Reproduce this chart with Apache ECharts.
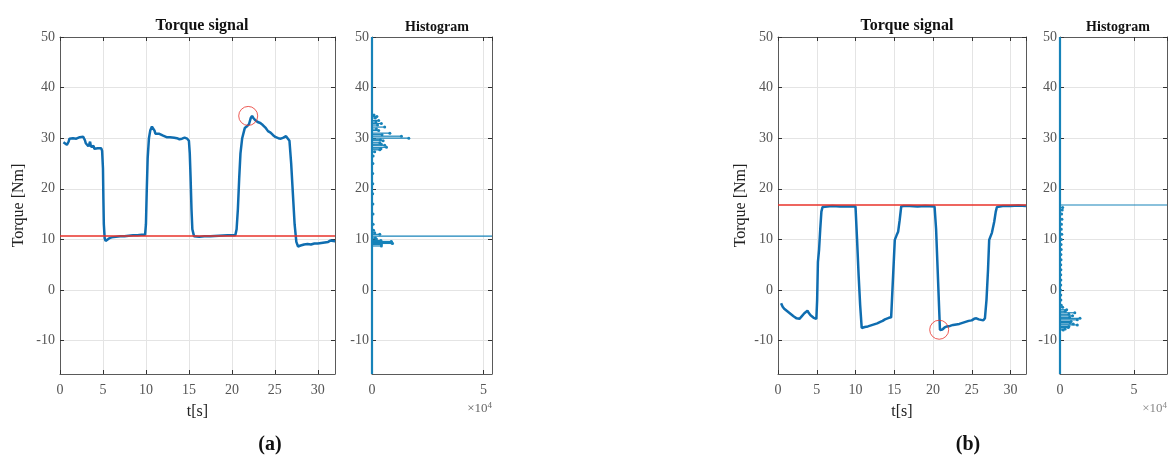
<!DOCTYPE html>
<html>
<head>
<meta charset="utf-8">
<script src="https://cdn.jsdelivr.net/npm/echarts@6/dist/echarts.min.js"></script>
<style>
html,body{margin:0;padding:0;background:#fff;}
#chart{width:1172px;height:456px;}
</style>
</head>
<body>
<div id="chart"></div>
<script>
// ---------- DATA ----------
const timeA = [0.4,0.6,0.8,1.0,1.1,1.3,1.5,1.7,1.9,2.1,2.3,2.5,2.7,2.9,3.0,3.1,3.2,3.3,3.4,3.5,3.6,3.8,3.9,4.0,4.2,4.4,4.6,4.8,4.9,5.0,5.05,5.1,5.2,5.3,5.5,5.7,6.0,6.5,7.0,7.5,8.0,8.5,9.0,9.5,9.9,10.0,10.1,10.2,10.35,10.5,10.7,10.9,11.0,11.1,11.3,11.5,11.7,12.0,12.2,12.4,12.6,12.8,13.0,13.3,13.6,13.9,14.2,14.5,14.8,15.0,15.1,15.2,15.3,15.4,15.6,15.8,16.2,16.8,17.5,18.5,19.5,20.4,20.55,20.7,20.85,21.0,21.2,21.5,21.8,22.0,22.2,22.35,22.5,22.7,23.0,23.3,23.6,23.9,24.2,24.5,24.8,25.1,25.4,25.7,26.0,26.3,26.5,26.7,26.9,27.1,27.3,27.5,27.7,28.0,28.4,28.8,29.2,29.6,30.0,30.4,30.8,31.2,31.5,31.8,32.0];
const torqueA = [29.2,28.9,28.7,29.3,29.9,30.1,30.0,30.3,29.9,29.7,30.2,30.4,30.3,29.6,29.0,28.7,28.9,28.4,28.8,29.3,28.3,28.0,28.5,27.9,28.2,28.0,28.3,28.0,27.5,24.0,18.0,13.0,10.2,9.7,9.8,10.2,10.4,10.5,10.6,10.6,10.7,10.8,10.8,10.9,10.9,13.0,20.0,26.0,30.0,31.5,32.3,32.5,31.5,30.9,31.2,30.9,31.1,30.5,30.8,30.2,30.4,30.2,30.3,30.1,30.0,29.8,29.9,30.1,29.9,29.5,27.0,22.0,16.0,12.0,10.6,10.4,10.5,10.6,10.6,10.7,10.8,10.8,12.0,16.0,22.0,27.0,30.0,32.0,32.4,32.8,34.0,34.4,34.0,33.6,33.2,33.0,32.6,32.1,31.4,31.1,30.6,30.2,30.0,29.9,30.1,30.4,30.6,29.5,25.0,19.0,13.0,9.5,8.6,8.8,9.0,9.1,9.0,9.2,9.2,9.3,9.4,9.5,9.8,9.7,9.6];

const timeB = [0.4,0.6,0.8,1.0,1.2,1.4,1.6,1.8,2.0,2.2,2.4,2.6,2.8,3.0,3.2,3.4,3.6,3.8,4.0,4.2,4.4,4.6,4.8,4.95,5.05,5.15,5.3,5.45,5.6,5.75,6.0,7.0,8.0,9.0,10.0,10.2,10.4,10.6,10.8,10.95,11.2,11.6,12.0,12.4,12.8,13.2,13.5,13.8,14.0,14.3,14.6,14.85,15.07,15.3,15.5,15.7,15.9,16.2,17.0,18.0,19.0,20.2,20.4,20.6,20.8,20.9,21.0,21.2,21.5,21.8,22.2,22.6,23.0,23.4,23.8,24.2,24.6,25.0,25.3,25.6,25.9,26.2,26.5,26.7,26.9,27.1,27.25,27.4,27.6,27.9,28.1,28.25,28.5,29.0,30.0,31.0,32.0];
const torqueB = [-2.6,-3.3,-3.7,-3.8,-4.2,-4.5,-4.7,-5.0,-5.2,-5.4,-5.6,-5.3,-5.7,-5.3,-5.0,-4.6,-4.3,-4.1,-4.6,-5.0,-5.3,-5.5,-5.8,-5.7,-2.0,5.5,8.0,12.0,15.5,16.4,16.5,16.6,16.5,16.5,16.5,10.0,3.0,-3.0,-7.5,-7.6,-7.3,-7.2,-7.0,-6.8,-6.6,-6.3,-6.1,-5.8,-6.0,-5.5,-5.4,-5.3,9.9,10.8,11.5,13.8,16.5,16.6,16.6,16.5,16.6,16.5,12.0,4.0,-4.0,-7.9,-7.6,-7.8,-7.4,-7.2,-7.1,-6.9,-6.8,-6.7,-6.5,-6.3,-6.1,-6.0,-5.7,-5.6,-5.8,-5.9,-6.0,-5.6,-2.0,4.0,9.9,10.5,11.3,13.5,15.5,16.4,16.6,16.6,16.6,16.7,16.6];

const refA = 10.65;
const refB = 16.8;
const circleA = [21.9, 34.4];
const circleB = [20.8, -7.85];

// histogram: torque level (Nm) and sample count
const histA_levels = [34.6,34.3,34.0,33.5,33.2,32.9,32.6,32.2,31.8,31.5,31.0,30.7,30.4,30.0,29.7,29.5,29.1,28.8,28.6,28.2,27.9,27.7,27.3,26.5,25.0,23.0,21.0,19.0,17.0,15.0,13.0,11.8,11.3,11.0,10.65,10.3,10.1,9.8,9.6,9.5,9.4,9.3,9.2,9.0,8.7];
const histA_counts = [900,2200,1500,3000,1800,4200,2500,5700,2000,3000,8000,4500,13200,16500,3800,5000,3500,4200,5700,6500,4000,3500,1200,500,400,300,350,300,400,450,500,700,1200,3500,900000,1500,2000,4000,8700,8500,8800,8900,9200,4200,4200];
const histB_levels = [-3.0,-3.4,-3.9,-4.2,-4.5,-4.8,-5.1,-5.4,-5.6,-5.9,-6.2,-6.4,-6.7,-6.9,-7.2,-7.4,-7.7,-7.9,-2.0,-1.0,0.0,1.0,2.0,3.0,4.0,5.0,6.0,7.0,8.0,9.0,10.0,11.0,12.0,13.0,14.0,15.0,15.8,16.3,16.8];
const histB_counts = [900,1800,4500,3500,10000,6000,8500,6500,13500,11700,7500,6800,9000,11700,6000,5600,3500,2200,600,500,400,500,600,500,600,500,700,600,800,700,900,1200,900,1000,1300,1100,1500,1800,900000];

const yTicks = [-10,0,10,20,30,40,50];
const Y_MIN = -16.6, Y_MAX = 50;
const HIST_MAX_A = 53800, HIST_MAX_B = 72300;

// ---------- STYLE ----------
const FONT = 'Liberation Serif';
const LINE_BLUE = '#0f6db0';
const STEM_BLUE = '#1783b9';
const RED = '#e8322a';
const AXIS_COL = '#5a5a5a';
const GRID_COL = '#e4e4e4';
const LABEL_COL = '#555';

const grids = [
  {left:60, top:37, width:275, height:337},
  {left:372, top:37, width:120, height:337},
  {left:778, top:37, width:248, height:337},
  {left:1060, top:37, width:107, height:337}
];

function yAxes(gi, name, nameGap, labelMargin){
  return [
    {gridIndex:gi, type:'value', min:Y_MIN, max:Y_MAX, position:'left',
     axisLine:{show:true, onZero:false, lineStyle:{color:AXIS_COL, width:1}},
     axisTick:{show:true, inside:true, length:4, customValues:yTicks, lineStyle:{color:'#333'}},
     axisLabel:{show:true, customValues:yTicks, color:LABEL_COL, fontFamily:FONT, fontSize:14, margin:labelMargin},
     splitLine:{show:true, lineStyle:{color:GRID_COL, width:1}},
     name:name, nameLocation:'middle', nameGap:nameGap,
     nameTextStyle:{fontFamily:FONT, fontSize:16, color:'#222'}},
    {gridIndex:gi, type:'value', min:Y_MIN, max:Y_MAX, position:'right',
     axisLine:{show:true, onZero:false, lineStyle:{color:AXIS_COL, width:1}},
     axisTick:{show:true, inside:true, length:4, customValues:yTicks, lineStyle:{color:'#333'}},
     axisLabel:{show:false}, splitLine:{show:false}}
  ];
}
function xAxesTime(gi){
  return [
    {gridIndex:gi, type:'value', min:0, max:32, interval:5, position:'bottom',
     axisLine:{show:true, onZero:false, lineStyle:{color:AXIS_COL}},
     axisTick:{show:true, inside:true, length:4, lineStyle:{color:'#333'}},
     axisLabel:{color:LABEL_COL, fontFamily:FONT, fontSize:14, margin:9, showMaxLabel:false},
     splitLine:{show:true, lineStyle:{color:GRID_COL}},
     name:'t[s]', nameLocation:'middle', nameGap:30,
     nameTextStyle:{fontFamily:FONT, fontSize:16, color:'#222'}},
    {gridIndex:gi, type:'value', min:0, max:32, interval:5, position:'top',
     axisLine:{show:true, onZero:false, lineStyle:{color:AXIS_COL}},
     axisTick:{show:true, inside:true, length:4, lineStyle:{color:'#333'}},
     axisLabel:{show:false}, splitLine:{show:false}}
  ];
}
function xAxesHist(gi, max){
  return [
    {gridIndex:gi, type:'value', min:0, max:max, interval:50000, position:'bottom',
     axisLine:{show:true, onZero:false, lineStyle:{color:AXIS_COL}},
     axisTick:{show:true, inside:true, length:4, lineStyle:{color:'#333'}},
     axisLabel:{color:LABEL_COL, fontFamily:FONT, fontSize:14, margin:9, showMaxLabel:false,
       formatter:function(v){return String(v/10000);}},
     splitLine:{show:true, lineStyle:{color:GRID_COL}}},
    {gridIndex:gi, type:'value', min:0, max:max, interval:50000, position:'top',
     axisLine:{show:true, onZero:false, lineStyle:{color:AXIS_COL}},
     axisTick:{show:true, inside:true, length:4, lineStyle:{color:'#333'}},
     axisLabel:{show:false}, splitLine:{show:false}}
  ];
}

function zip(a,b){return a.map(function(v,i){return [v,b[i]];});}

function stemRender(params, api){
  const c = api.value(0), lvl = api.value(1);
  const p0 = api.coord([0, lvl]);
  const p1 = api.coord([c, lvl]);
  return {type:'group', children:[
    {type:'line', shape:{x1:p0[0], y1:p0[1], x2:p1[0], y2:p1[1]}, style:{stroke:STEM_BLUE, lineWidth:1.2}},
    {type:'circle', shape:{cx:p1[0], cy:p1[1], r:1.5}, style:{fill:STEM_BLUE}}
  ]};
}

function mainSeries(xi, yi, t, v, ref, circ){
  return [
    {type:'line', xAxisIndex:xi, yAxisIndex:yi, data:zip(t,v), showSymbol:false, symbol:'none',
     lineStyle:{color:LINE_BLUE, width:2.5}, z:3, animation:false},
    {type:'scatter', xAxisIndex:xi, yAxisIndex:yi, data:[circ], symbol:'circle', symbolSize:19,
     itemStyle:{color:'rgba(0,0,0,0)', borderColor:RED, borderWidth:1}, z:6, animation:false,
     markLine:{silent:true, symbol:'none', z:6, label:{show:false},
       lineStyle:{color:RED, width:1.5, type:'solid', opacity:1}, data:[{yAxis:ref}], animation:false}}
  ];
}
function histSeries(xi, yi, levels, counts){
  return [
    {type:'custom', xAxisIndex:xi, yAxisIndex:yi, clip:true, data:zip(counts, levels),
     encode:{x:0, y:1}, renderItem:stemRender, z:3, animation:false,
     markLine:{silent:true, symbol:'none', label:{show:false},
       lineStyle:{color:STEM_BLUE, width:2.2, type:'solid'}, data:[{xAxis:0}], animation:false}}
  ];
}

const titleStyleMain = {fontFamily:FONT, fontSize:16, fontWeight:'bold', color:'#111'};
const titleStyleHist = {fontFamily:FONT, fontSize:14, fontWeight:'bold', color:'#111'};

const option = {
  backgroundColor:'#fff',
  animation:false,
  title:[
    {text:'Torque signal', left:197, top:13, textAlign:'center', textStyle:titleStyleMain},
    {text:'Histogram', left:432, top:15, textAlign:'center', textStyle:titleStyleHist},
    {text:'Torque signal', left:902, top:13, textAlign:'center', textStyle:titleStyleMain},
    {text:'Histogram', left:1113, top:15, textAlign:'center', textStyle:titleStyleHist},
    {text:'(a)', left:265, top:430, textAlign:'center', textStyle:{fontFamily:FONT, fontSize:20, fontWeight:'bold', color:'#111'}},
    {text:'(b)', left:963, top:430, textAlign:'center', textStyle:{fontFamily:FONT, fontSize:20, fontWeight:'bold', color:'#111'}}
  ],
  grid:grids,
  xAxis:[].concat(xAxesTime(0), xAxesHist(1, HIST_MAX_A), xAxesTime(2), xAxesHist(3, HIST_MAX_B)),
  yAxis:[].concat(yAxes(0,'Torque [Nm]',33,5), yAxes(1,'',0,3), yAxes(2,'Torque [Nm]',29,5), yAxes(3,'',0,3)),
  series:[].concat(
    mainSeries(0,0,timeA,torqueA,refA,circleA),
    histSeries(2,2,histA_levels,histA_counts),
    mainSeries(4,4,timeB,torqueB,refB,circleB),
    histSeries(6,6,histB_levels,histB_counts)
  ),
  graphic:[
    {type:'text', right:1172-492, top:401, style:{text:'{a|×10}{b|4}', rich:{a:{fontFamily:FONT, fontSize:13, fill:'#666'}, b:{fontFamily:FONT, fontSize:9, fill:'#666', verticalAlign:'top', padding:[0,0,6,0]}}}},
    {type:'text', right:1172-1167, top:401, style:{text:'{a|×10}{b|4}', rich:{a:{fontFamily:FONT, fontSize:13, fill:'#888'}, b:{fontFamily:FONT, fontSize:9, fill:'#888', verticalAlign:'top', padding:[0,0,6,0]}}}}
  ]
};

const chart = echarts.init(document.getElementById('chart'), null, {renderer:'canvas'});
chart.setOption(option);
</script>
</body>
</html>
